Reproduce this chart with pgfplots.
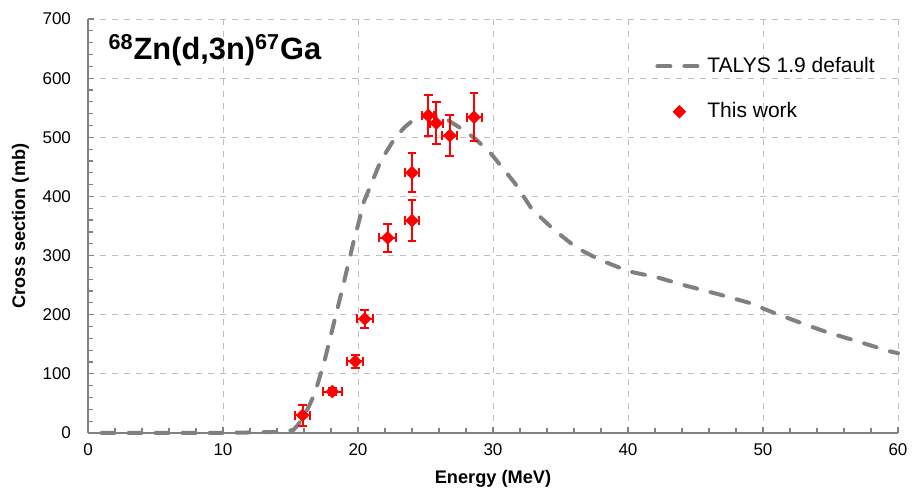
\documentclass[border=0pt]{standalone}
\usepackage{fontspec}
\setmainfont{Liberation Sans}
\usepackage{pgfplots}
\pgfplotsset{compat=1.18}
\usepackage{pgfplotstable}

\definecolor{talys}{RGB}{128,128,128}
\definecolor{gridc}{RGB}{190,190,190}

\pgfplotsset{
  dashleg/.style={legend image code/.code={\draw[##1] (0pt,0pt) -- (22pt,0pt);}},
  markleg/.style={legend image code/.code={\draw[##1] plot coordinates {(11pt,0pt)};}},
}

% TALYS 1.9 default
\pgfplotstableread{
E s
1.0 0
5.0 0
10.0 0
14.3 2
15.2 5
15.6 15
16.0 30
16.3 42
16.8 67
17.5 120
18.4 203
19.0 259
19.7 326
20.1 360
20.4 389
21.0 422
21.7 461
22.8 501
23.5 518
24.3 533
25.2 537
26.3 535
27.0 524
28.0 510
28.9 493
29.9 471
31.6 423
32.9 378
34.5 344
36.2 313
37.9 293
40.1 273
42.2 263
44.3 249
46.8 234
49.0 220
50.5 206
52.7 187
54.8 170
57.0 155
59.4 138
60.0 135
}\talys

% This work
\pgfplotstableread{
E s dE ds
15.9 30 0.55 18
18.1 70 0.70 6
19.8 121 0.60 11
20.5 193 0.60 15
22.2 330 0.65 24
24.0 359 0.50 35
24.0 440 0.50 33
25.2 537 0.45 34
25.8 524 0.50 36
26.8 503 0.55 35
28.6 534 0.55 41
}\thiswork

\begin{document}
\begin{tikzpicture}
\begin{axis}[
  scale only axis,
  width=405pt, height=207pt,
  xmin=0, xmax=60, ymin=0, ymax=700,
  xtick={0,10,...,60}, ytick={0,100,...,700},
  minor x tick num=4, minor y tick num=4,
  axis lines=left,
  axis line style={-, talys, line width=0.8pt},
  tick align=inside,
  tick style={talys, line width=0.6pt},
  major tick length=3pt, minor tick length=2.5pt,
  grid=major,
  major grid style={gridc, dashed, line width=0.4pt},
  /pgf/number format/assume math mode=true,
  tick label style={font=\fontsize{8.5}{10}\selectfont},
  yticklabel style={xshift=-5pt},
  xticklabel style={yshift=-2pt},
  xlabel={\bfseries Energy (MeV)},
  ylabel={\bfseries Cross section (mb)},
  label style={font=\fontsize{9.1}{11}\selectfont},
  xlabel style={yshift=0pt},
  clip=false,
  legend cell align=left,
  legend style={draw=none, fill=none, at={(rel axis cs:0.700,0.918)}, anchor=north west,
    font=\fontsize{10.5}{12}\selectfont, row sep=9.5pt, inner sep=0pt,
    nodes={inner sep=2pt}},
]
\coordinate (o) at (rel axis cs:0,0);
\addplot[talys, line width=2pt, line cap=round, dash pattern=on 6.5pt off 7pt, dashleg]
  table[x=E, y=s] {\talys};
\addlegendentry{TALYS 1.9 default}
\addplot[only marks, red, mark=square*, mark size=2.2pt,
  mark options={fill=red, draw=red, rotate=45}, markleg,
  error bars/.cd, x dir=both, x explicit, y dir=both, y explicit,
  error bar style={red, line width=1pt},
  error mark options={red, rotate=90, mark size=2.2pt, line width=1pt}]
  table[x=E, y=s, x error=dE, y error=ds] {\thiswork};
\addlegendentry{This work}
\node[anchor=west, font=\bfseries\fontsize{15.4}{17}\selectfont, inner sep=0pt]
  at (rel axis cs:0.025,0.925) {\textsuperscript{68}Zn(d,3n)\textsuperscript{67}Ga};
\end{axis}
\pgfresetboundingbox
\path ([shift={(-44pt,-29.5pt)}]o) rectangle ++(456pt,246pt);
\end{tikzpicture}
\end{document}
